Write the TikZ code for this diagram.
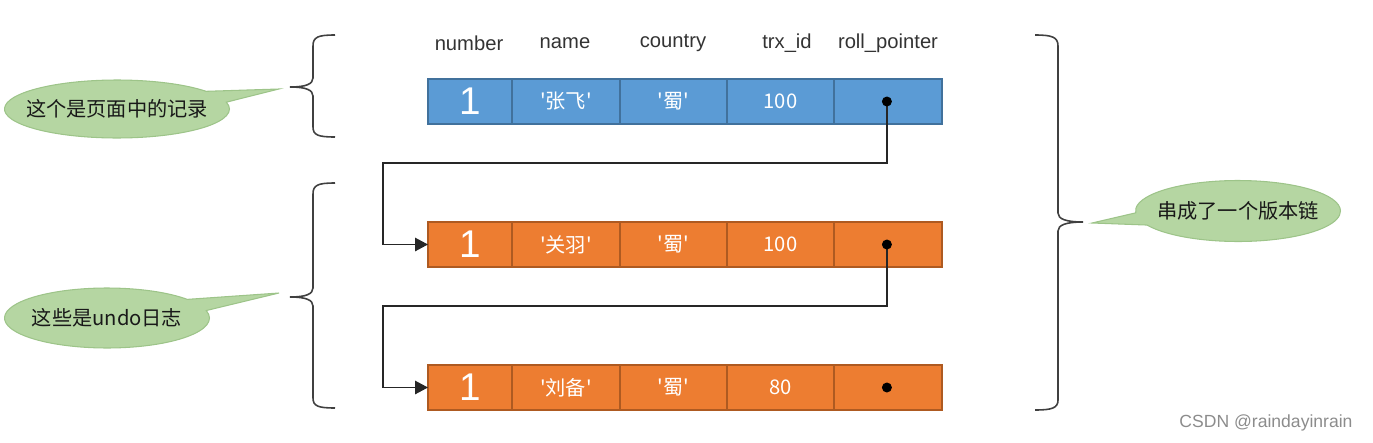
\documentclass[tikz,border=0pt]{standalone}
\usepackage{fontspec}
\setmainfont{Liberation Sans}
\newfontfamily\cjk{Noto Sans CJK SC}
\usetikzlibrary{positioning,shapes.callouts,arrows.meta}

\definecolor{recblue}{HTML}{5B9BD5}
\definecolor{recblueline}{HTML}{41719C}
\definecolor{undoorange}{HTML}{ED7D31}
\definecolor{undoline}{HTML}{AE5A21}
\definecolor{notegreen}{HTML}{B5D6A2}
\definecolor{noteline}{HTML}{9DC489}

\newcommand{\sq}[1]{\textquotesingle#1\textquotesingle}

\tikzset{
    cell/.style={draw, rectangle, minimum height=0.9cm, inner sep=0pt, outer sep=0pt,
        text=white, line width=0.9pt, font=\cjk\fontsize{11.5}{13}\selectfont},
    newcell/.style={cell, fill=recblue, draw=recblueline},
    oldcell/.style={cell, fill=undoorange, draw=undoline},
    bignum/.style={font=\fontsize{22}{24}\selectfont},
    colhead/.style={text=black!80, font=\fontsize{11.5}{13}\selectfont},
    note/.style={ellipse callout, callout pointer arc=24, fill=notegreen, draw=noteline,
        line width=0.6pt, inner sep=0pt, text=black!90, font=\cjk\fontsize{11.5}{13}\selectfont},
    bracket/.style={line width=0.9pt, black!75},
    link/.style={line width=0.8pt, black!85, -{Triangle[length=0.26cm, width=0.27cm]}}
}

\begin{document}
\begin{tikzpicture}[x=0.02cm, y=-0.02cm]

    % canvas in pixel units of the original picture
    \useasboundingbox (0,0) rectangle (1373,443);

    % 1. Column titles
    \node[colhead] (hnum)  at (469,43) {number};
    \node[colhead] (hname) at (565,43) {name};
    \node[colhead] (hctry) at (673,43) {country};
    \node[colhead] (htrx)  at (787,43) {trx\_id};
    \node[colhead] (hroll) at (888,43) {roll\_pointer};

    % 2. The record in the page (blue)
    \node[newcell, bignum, minimum width=1.68cm, anchor=west] (a1) at (428,101.5) {1};
    \node[newcell, minimum width=2.16cm, right=0pt of a1] (a2) {\sq{张飞}};
    \node[newcell, minimum width=2.14cm, right=0pt of a2] (a3) {\sq{蜀}};
    \node[newcell, minimum width=2.14cm, right=0pt of a3] (a4) {100};
    \node[newcell, minimum width=2.16cm, right=0pt of a4] (a5) {};

    % 3. The undo log records (orange)
    \node[oldcell, bignum, minimum width=1.68cm, anchor=west] (b1) at (428,244.5) {1};
    \node[oldcell, minimum width=2.16cm, right=0pt of b1] (b2) {\sq{关羽}};
    \node[oldcell, minimum width=2.14cm, right=0pt of b2] (b3) {\sq{蜀}};
    \node[oldcell, minimum width=2.14cm, right=0pt of b3] (b4) {100};
    \node[oldcell, minimum width=2.16cm, right=0pt of b4] (b5) {};

    \node[oldcell, bignum, minimum width=1.68cm, anchor=west] (c1) at (428,387.5) {1};
    \node[oldcell, minimum width=2.16cm, right=0pt of c1] (c2) {\sq{刘备}};
    \node[oldcell, minimum width=2.14cm, right=0pt of c2] (c3) {\sq{蜀}};
    \node[oldcell, minimum width=2.14cm, right=0pt of c3] (c4) {80};
    \node[oldcell, minimum width=2.16cm, right=0pt of c4] (c5) {};

    % 4. roll_pointer links
    \coordinate (pa) at ([xshift=-0.02cm]a5.center);
    \coordinate (pb) at ([xshift=-0.02cm]b5.center);
    \coordinate (pc) at ([xshift=-0.02cm]c5.center);
    \coordinate (turnA) at (383,163);
    \coordinate (turnB) at (383,306);

    \draw[link] (pa) |- (turnA) |- (b1.west);
    \draw[link] (pb) |- (turnB) |- (c1.west);

    \foreach \p in {pa,pb,pc}
        \fill[black] (\p) circle (0.1cm);

    % 5. Braces (stem, small curls at the ends, pointed tip)
    \draw[bracket] (335,35) .. controls (318,35) and (313,37) .. (313,46) -- (313,78)
        .. controls (313,84) and (306,87) .. (290,87)
        .. controls (306,87) and (313,90) .. (313,96) -- (313,127)
        .. controls (313,135) and (318,137) .. (335,137);
    \draw[bracket] (335,183) .. controls (318,183) and (313,185) .. (313,194) -- (313,288)
        .. controls (313,294) and (306,297) .. (290,297)
        .. controls (306,297) and (313,300) .. (313,306) -- (313,398)
        .. controls (313,406) and (318,408) .. (335,408);
    \draw[bracket] (1035,35) .. controls (1052,35) and (1058,37) .. (1058,46) -- (1058,213)
        .. controls (1058,219) and (1066,222) .. (1083,222)
        .. controls (1066,222) and (1058,225) .. (1058,231) -- (1058,400)
        .. controls (1058,408) and (1052,410) .. (1035,410);

    % 6. Callouts
    \node[note, minimum width=4.5cm, minimum height=1.16cm,
        callout absolute pointer={(279,89)}] (notepage) at (117,109) {\makebox[0pt]{这个是页面中的记录}};
    \node[note, minimum width=4.1cm, minimum height=1.2cm,
        callout absolute pointer={(279,293)}] (noteundo) at (107,318) {\makebox[0pt]{这些是undo日志}};
    \node[note, minimum width=4.1cm, minimum height=1.22cm,
        callout absolute pointer={(1092,223)}] (notechain) at (1238,211) {\makebox[0pt]{串成了一个版本链}};

    % watermark
    \node[text=black!45, font=\fontsize{10}{12}\selectfont] (mark) at (1266,423) {CSDN @raindayinrain};

\end{tikzpicture}
\end{document}
